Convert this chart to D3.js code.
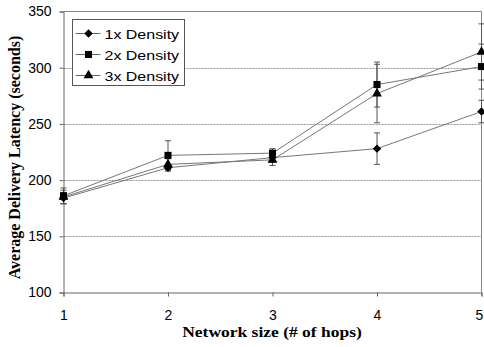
<!DOCTYPE html>
<html>
<head>
  <meta charset="utf-8">
  <script src="https://d3js.org/d3.v7.min.js"></script>
  <style>
    body { margin: 0; background: #fff; }
  </style>
</head>
<body>
<svg id="chart"></svg>
<script>
  var w = 484;
  var h = 347;

  // data
  var hops = [1, 2, 3, 4, 5];
  var seriesNames = ["1x Density", "2x Density", "3x Density"];
  var density1 = [184, 211, 220, 228, 261];
  var density2 = [186, 222, 224, 285, 301];
  var density3 = [185, 214, 218, 277, 314];
  var err1 = [5, 3, 4, 14, 10];
  var err2 = [7, 13, 4, 20, 20];
  var err3 = [6, 5, 5, 26, 25];
  var yTicks = [100, 150, 200, 250, 300, 350];
  var gridTicks = [150, 200, 250, 300];

  var sans = "'Liberation Sans', Arial, sans-serif";
  var serif = "'Liberation Serif', 'Times New Roman', serif";

  var diamond = d3.symbolSquare; // drawn rotated 45deg
  var series = [
    { name: seriesNames[0], values: density1, errs: err1, sym: diamond, size: 36, rot: 45 },
    { name: seriesNames[1], values: density2, errs: err2, sym: d3.symbolSquare, size: 50, rot: 0 },
    { name: seriesNames[2], values: density3, errs: err3, sym: d3.symbolTriangle, size: 42, rot: 0 }
  ];

  var svg = d3.select("#chart").attr("width", w).attr("height", h);

  var x = d3.scaleLinear().domain([1, 5]).range([63.5, 481.5]);
  var y = d3.scaleLinear().domain([100, 350]).range([292.5, 11.5]);

  // dotted gridlines
  svg.append("g").selectAll("line").data(gridTicks).enter().append("line")
    .attr("x1", x(1)).attr("x2", x(5))
    .attr("y1", function(d) { return Math.round(y(d)) + 0.5; })
    .attr("y2", function(d) { return Math.round(y(d)) + 0.5; })
    .attr("stroke", "#999").attr("stroke-dasharray", "2,1");

  // frame top / right
  svg.append("path")
    .attr("d", "M" + x(1) + "," + y(350) + "H" + x(5) + "V" + y(100))
    .attr("fill", "none").attr("stroke", "#888");

  // axes
  var yAxis = d3.axisLeft(y).tickValues(yTicks).tickSize(4).tickPadding(8);
  var gy = svg.append("g").attr("transform", "translate(" + x(1) + ",0)").call(yAxis);
  var xAxis = d3.axisBottom(x).tickValues(hops).tickFormat(d3.format("d")).tickSize(4).tickPadding(14);
  var gx = svg.append("g").attr("transform", "translate(0," + y(100) + ")").call(xAxis);

  [gx, gy].forEach(function(g) {
    g.select(".domain").attr("stroke", "#666");
    g.selectAll(".tick line").attr("stroke", "#666");
    g.selectAll("text").attr("font-family", sans)
      .attr("font-size", "14px").attr("fill", "#000");
  });
  // last label sits at the right edge
  gx.selectAll(".tick text").filter(function(d) { return d === 5; }).attr("x", -2.5);

  // error bars
  series.forEach(function(s) {
    var g = svg.append("g");
    hops.forEach(function(hp, i) {
      var cx = x(hp), v = s.values[i], e = s.errs[i];
      g.append("line").attr("x1", cx).attr("x2", cx)
        .attr("y1", y(v - e)).attr("y2", y(v + e))
        .attr("stroke", "#555");
      [v - e, v + e].forEach(function(c) {
        g.append("line").attr("x1", cx - 3).attr("x2", cx + 3)
          .attr("y1", y(c)).attr("y2", y(c)).attr("stroke", "#555");
      });
    });
  });

  // lines
  var line = d3.line()
    .x(function(d, i) { return x(hops[i]); })
    .y(function(d) { return y(d); });

  series.forEach(function(s) {
    svg.append("path").datum(s.values)
      .attr("d", line).attr("fill", "none")
      .attr("stroke", "#777").attr("stroke-width", 1);
  });

  // markers
  series.forEach(function(s) {
    svg.append("g").selectAll("path").data(s.values).enter().append("path")
      .attr("d", d3.symbol().type(s.sym).size(s.size))
      .attr("transform", function(d, i) {
        return "translate(" + x(hops[i]) + "," + y(d) + ") rotate(" + s.rot + ")";
      })
      .attr("fill", "#000");
  });

  // legend
  var lg = svg.append("g").attr("transform", "translate(72.5,19.5)");
  lg.append("rect").attr("width", 112).attr("height", 66)
    .attr("fill", "#fff").attr("stroke", "#555");
  series.forEach(function(s, i) {
    var ly = 14 + i * 21;
    lg.append("line").attr("x1", 3).attr("x2", 28).attr("y1", ly).attr("y2", ly)
      .attr("stroke", "#666");
    lg.append("path").attr("d", d3.symbol().type(s.sym).size(s.size))
      .attr("transform", "translate(16," + ly + ") rotate(" + s.rot + ")").attr("fill", "#000");
    lg.append("text")
      .attr("transform", "translate(32," + (ly + 5) + ") scale(1.23,1)")
      .text(s.name)
      .attr("font-family", sans)
      .attr("font-size", "13px").attr("fill", "#000");
  });

  // axis titles
  svg.append("text")
    .attr("transform", "translate(272,337) scale(1.25,1)")
    .attr("text-anchor", "middle").text("Network size (# of hops)")
    .attr("font-family", serif)
    .attr("font-weight", "bold").attr("font-size", "14px");

  svg.append("text")
    .attr("transform", "translate(20,157.5) rotate(-90)")
    .attr("text-anchor", "middle").text("Average Delivery Latency (seconds)")
    .attr("font-family", serif)
    .attr("font-weight", "bold").attr("font-size", "16px");
</script>
</body>
</html>
